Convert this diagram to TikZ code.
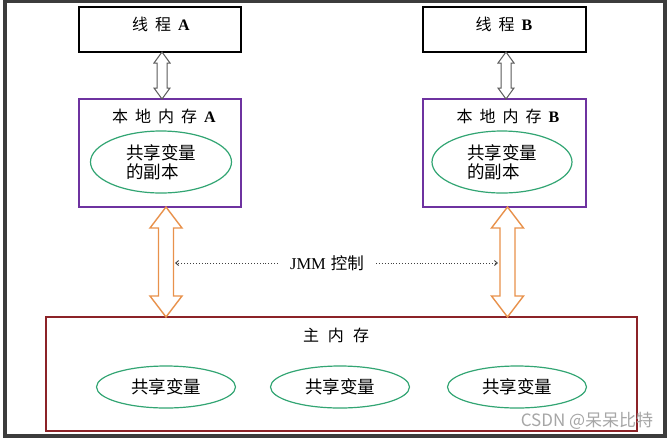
\documentclass[tikz,border=0pt]{standalone}
\usepackage{fontspec}
\setmainfont{Liberation Serif}
\newfontfamily\cjk{Noto Sans CJK SC}
\newfontfamily\wmfont{Noto Sans CJK SC}
\usetikzlibrary{calc,shapes.geometric,arrows.meta}
\definecolor{framegray}{RGB}{60,60,60}
\definecolor{lmpurple}{RGB}{110,50,160}
\definecolor{elgreen}{RGB}{50,165,115}
\definecolor{arrorange}{RGB}{232,145,75}
\definecolor{mmred}{RGB}{140,35,40}
\definecolor{arrgray}{RGB}{90,90,90}
\newcommand\twoway[7]{\draw[#1] let \p1=(#3),\p2=(#4) in
 (#2pt,\y1) -- (#2pt+#6pt,\y1-#7pt) -- (#2pt+#5pt,\y1-#7pt) -- (#2pt+#5pt,\y2+#7pt)
 -- (#2pt+#6pt,\y2+#7pt) -- (#2pt,\y2) -- (#2pt-#6pt,\y2+#7pt) -- (#2pt-#5pt,\y2+#7pt)
 -- (#2pt-#5pt,\y1-#7pt) -- (#2pt-#6pt,\y1-#7pt) -- cycle;}
\begin{document}
\begin{tikzpicture}[x=1pt,y=-1pt,
  threadbox/.style={draw=black, line width=1.4pt, rectangle, outer sep=0pt, inner sep=0pt},
  localbox/.style={draw=lmpurple, line width=1.1pt, rectangle, outer sep=0pt, inner sep=0pt,
     minimum width=162pt, minimum height=108pt},
  mainbox/.style={draw=mmred, line width=1.2pt, rectangle, outer sep=0pt, inner sep=0pt,
     minimum width=591pt, minimum height=114pt},
  copyell/.style={ellipse, draw=elgreen, line width=1.2pt, minimum width=141pt, minimum height=62pt,
     align=left, inner sep=0pt, font=\cjk\fontsize{17.5}{19}\selectfont},
  varell/.style={ellipse, draw=elgreen, line width=1.2pt, minimum width=139pt, minimum height=42pt,
     inner sep=0pt, font=\cjk\fontsize{17.5}{19}\selectfont},
  title/.style={font=\fontsize{16}{18}\selectfont, inner sep=0pt},
  grayarr/.style={draw=arrgray, fill=white, line width=1pt, line join=miter},
  orangearr/.style={draw=arrorange, fill=white, line width=1.4pt, line join=miter},
  ctrl/.style={dotted, line width=0.9pt, draw=black!75, -{Straight Barb[length=3pt,width=5pt]}}
]
\useasboundingbox (0,0) rectangle (670,440);
\fill[white] (0,0) rectangle (670,440);
\draw[line width=3.5pt, draw=framegray] (5,1.5) rectangle (665,436);

% threads
\node[threadbox, minimum width=162pt, minimum height=45pt] (ta) at (160,29.5) {};
\node[threadbox, minimum width=163pt, minimum height=45pt] (tb) at (504.5,29.5) {};
\node[title] (tat) at (161,24) {{\cjk 线\hspace{7pt}程}\hspace{7pt}\textbf{A}};
\node[title] (tbt) at (504,24) {{\cjk 线\hspace{7pt}程}\hspace{7pt}\textbf{B}};

% local memories
\node[localbox] (la) at (160,153) {};
\node[localbox, minimum width=163pt] (lb) at (504.5,153) {};
\node[title] (lat) at (164,116) {{\cjk 本\hspace{7pt}地\hspace{7pt}内\hspace{7pt}存}\hspace{7pt}\textbf{A}};
\node[title] (lbt) at (508,116) {{\cjk 本\hspace{7pt}地\hspace{7pt}内\hspace{7pt}存}\hspace{7pt}\textbf{B}};
\node[copyell] (ea) at (161,162) {共享变量\\的副本};
\node[copyell, minimum width=140pt] (eb) at (502,162) {共享变量\\的副本};

% main memory
\node[mainbox] (mm) at (341.5,374) {};
\node[title] (mmt) at (336,335) {\cjk 主\hspace{9pt}内\hspace{9pt}存};
\node[varell] (v1) at (166,387) {共享变量};
\node[varell] (v2) at (340,387) {共享变量};
\node[varell] (v3) at (517,387) {共享变量};

% thread <-> local arrows
\twoway{grayarr}{162}{ta.south}{la.north}{5}{8}{11}
\twoway{grayarr}{506}{tb.south}{lb.north}{5}{8}{11}

% local <-> main arrows
\twoway{orangearr}{166}{la.south}{mm.north}{7.5}{16}{21}
\twoway{orangearr}{507.5}{lb.south}{mm.north}{7.5}{16}{21}

% JMM control
\node[font=\fontsize{16.5}{18}\selectfont, inner sep=0pt] (jmm) at (327,263) {JMM\hspace{5pt}{\cjk 控制}};
\coordinate (ca) at (175,263);
\coordinate (cb) at (498,263);
\draw[ctrl] ($(jmm.west)+(-12,0)$) -- (ca);
\draw[ctrl] ($(jmm.east)+(12,0)$) -- (cb);

% watermark
\node[font=\wmfont\fontsize{17}{19}\selectfont, text=black!35, inner sep=0pt] (wm) at (587,421) {CSDN @呆呆比特};
\end{tikzpicture}
\end{document}
